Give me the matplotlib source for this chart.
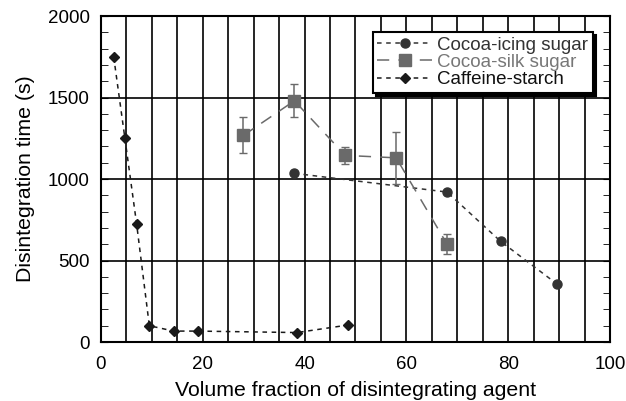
import matplotlib
matplotlib.use("Agg")
import matplotlib.pyplot as plt
from matplotlib.ticker import MultipleLocator

plt.rcParams["font.family"] = ["Liberation Sans", "DejaVu Sans"]

# ── data ──
icing_x = [38, 68, 78.5, 89.5]
icing_y = [1035, 920, 618, 358]

silk_x = [28, 38, 48, 58, 68]
silk_y = [1268, 1480, 1145, 1130, 600]
silk_err = [110, 100, 50, 160, 60]

caff_x = [2.5, 4.7, 7.0, 9.5, 14.3, 19.0, 38.5, 48.5]
caff_y = [1750, 1250, 725, 100, 67, 67, 58, 104]

C_ICING = "#333333"
C_SILK = "#6a6a6a"
C_CAFF = "#1a1a1a"

fig = plt.figure(figsize=(6.26, 4.01), dpi=100)
ax = fig.add_axes([0.1613, 0.1471, 0.8131, 0.8129])

h1, = ax.plot(icing_x, icing_y, color=C_ICING, marker="o", markersize=6.5,
              linestyle=(0, (3, 3)), linewidth=1.1, label="Cocoa-icing sugar", zorder=4)
eb = ax.errorbar(silk_x, silk_y, yerr=silk_err, color=C_SILK, marker="s", markersize=8,
                 linestyle=(0, (8, 6)), linewidth=1.1, capsize=3, elinewidth=1.1,
                 label="Cocoa-silk sugar", zorder=4)
h3, = ax.plot(caff_x, caff_y, color=C_CAFF, marker="D", markersize=5,
              linestyle=(0, (3, 3)), linewidth=1.1, label="Caffeine-starch", zorder=4)

ax.set_xlim(0, 100)
ax.set_ylim(0, 2000)
ax.xaxis.set_major_locator(MultipleLocator(20))
ax.xaxis.set_minor_locator(MultipleLocator(5))
ax.yaxis.set_major_locator(MultipleLocator(500))
ax.yaxis.set_minor_locator(MultipleLocator(100))

ax.grid(True, which="major", axis="y", color="black", linewidth=1.2)
ax.grid(True, which="both", axis="x", color="black", linewidth=1.2)
ax.set_axisbelow(True)

ax.tick_params(axis="both", which="both", direction="in", labelsize=13.5)
ax.tick_params(axis="y", which="both", right=True, length=5, pad=8)
ax.tick_params(axis="x", which="both", length=0, pad=10)
for s in ax.spines.values():
    s.set_linewidth(1.5)

ax.set_xlabel("Volume fraction of disintegrating agent", fontsize=15.3, labelpad=6)
ax.set_ylabel("Disintegration time (s)", fontsize=15.3, labelpad=9)

leg = ax.legend([h1, eb[0], h3],
                ["Cocoa-icing sugar", "Cocoa-silk sugar", "Caffeine-starch"],
                loc="upper right", bbox_to_anchor=(0.967, 0.951), fontsize=13.5,
                fancybox=False, edgecolor="black", framealpha=1,
                shadow={"color": "black", "alpha": 1}, labelspacing=0.0,
                handlelength=2.9, handletextpad=0.3, borderpad=0.25,
                borderaxespad=0)
leg.get_frame().set_linewidth(1.5)
for txt, c in zip(leg.get_texts(), ["#333333", "#777777", "#111111"]):
    txt.set_color(c)

fig.savefig("out.png", dpi=100)
